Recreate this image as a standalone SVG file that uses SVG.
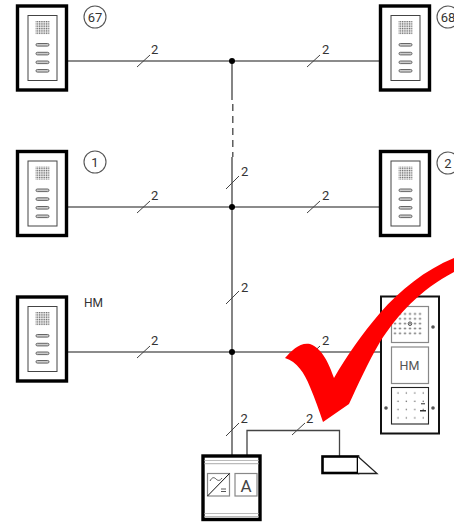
<svg xmlns="http://www.w3.org/2000/svg" xmlns:xlink="http://www.w3.org/1999/xlink" width="454" height="522" viewBox="0 0 454 522">
<style>
text{font-family:Roboto,"Liberation Sans",sans-serif;fill:#333}
.w{stroke:#666;stroke-width:1.6;fill:none}
.v{stroke:#444;stroke-width:1.3;fill:none}
.t{stroke:#444;stroke-width:1;fill:none}
.n{font-size:13px}
.c{font-size:13px;text-anchor:middle}
.ring{fill:#fff;stroke:#555;stroke-width:1.1}
.frame{fill:#fff;stroke:#000;stroke-width:3.4}
.in{fill:#fff;stroke:#444;stroke-width:1}
.btn{fill:#ccc;stroke:#666;stroke-width:1}
.mod{fill:#fff;stroke:#888;stroke-width:1.2}
.dotk{fill:#555}
</style>
<defs>
<pattern id="gr" x="35.500" y="21" width="1.750" height="1.750" patternUnits="userSpaceOnUse"><rect width="1.100" height="1.100" fill="#666"/></pattern>
<g id="st">
<rect class="frame" x="17.500" y="6" width="49" height="84"/>
<rect class="in" x="28" y="15.500" width="29" height="65"/>
<rect x="35.500" y="21" width="14" height="13.200" fill="url(#gr)"/>
<rect class="btn" x="36" y="43.500" width="13" height="2.600" rx="1.300"/>
<rect class="btn" x="36" y="52.300" width="13" height="2.600" rx="1.300"/>
<rect class="btn" x="36" y="61" width="13" height="2.600" rx="1.300"/>
<rect class="btn" x="36" y="69.500" width="13" height="2.600" rx="1.300"/>
</g>
<pattern id="sp" x="392.500" y="311.500" width="5" height="4.850" patternUnits="userSpaceOnUse"><circle cx="2.500" cy="2.500" r="0.950" fill="#555"/></pattern>
<pattern id="kp" x="394" y="389" width="8.400" height="8.300" patternUnits="userSpaceOnUse"><circle cx="4" cy="4" r="0.750" fill="#666"/></pattern>
</defs>
<g id="connectors">
<path class="w" d="M67 61H379M67 207H379M67 352H380"/>
<path class="v" d="M232 61V100M232 157V456M247 456V430.500H339.500V456"/>
<path class="v" stroke-dasharray="7 5" d="M232.800 104V157"/>
<circle cx="232" cy="61" r="3"/><circle cx="232" cy="207" r="3"/><circle cx="232" cy="352" r="3"/>
<path class="t" d="M137 67L150 55M307 67L320 55M226 189L239 176M137 213L150 201M307 213L320 201M226 304L239 291M137 358L150 346M307 358L320 346M226 436L239 423M292 435L305 423"/>
<text class="n" x="151" y="53.500">2</text><text class="n" x="322" y="53.500">2</text>
<text class="n" x="241" y="175.500">2</text><text class="n" x="151" y="199.500">2</text><text class="n" x="322" y="199.500">2</text>
<text class="n" x="241" y="291.500">2</text><text class="n" x="151" y="345">2</text><text class="n" x="322" y="345">2</text>
<text class="n" x="240.500" y="423">2</text><text class="n" x="306" y="423">2</text>
</g>
<g id="station-67"><use xlink:href="#st" href="#st"/><circle class="ring" cx="95" cy="17" r="11"/><text class="c" x="95" y="21.500">67</text></g>
<g id="station-68"><use xlink:href="#st" href="#st" x="363"/><circle class="ring" cx="448" cy="17" r="11"/><text class="c" x="448" y="21.500">68</text></g>
<g id="station-1"><use xlink:href="#st" href="#st" y="145.500"/><circle class="ring" cx="95" cy="162" r="11"/><text class="c" x="95" y="166.500">1</text></g>
<g id="station-2"><use xlink:href="#st" href="#st" x="363" y="145.500"/><circle class="ring" cx="448" cy="163" r="11"/><text class="c" x="448" y="167.500">2</text></g>
<g id="station-hm"><use xlink:href="#st" href="#st" y="291"/><text x="84" y="307" style="font-size:12px">HM</text></g>
<g id="door-panel">
<rect x="381" y="296.500" width="58" height="137" fill="#fff" stroke="#111" stroke-width="2"/>
<rect class="mod" x="391.500" y="306.500" width="37" height="36"/>
<rect x="393" y="312" width="30" height="24" fill="url(#sp)"/>
<circle cx="410" cy="323.700" r="1.800" fill="none" stroke="#555"/>
<rect class="mod" x="391.500" y="347" width="37" height="36.500"/>
<text x="409.500" y="369.500" style="font-size:12.500px;text-anchor:middle;fill:#555">HM</text>
<rect x="391.500" y="387.500" width="37" height="36.500" fill="#fff" stroke="#222" stroke-width="1.100"/>
<rect x="394" y="390" width="32" height="32" fill="url(#kp)"/>
<rect x="421" y="403" width="4" height="1.400" fill="#666"/>
<rect x="420" y="410" width="6" height="1.500" fill="#333"/>
<circle class="dotk" cx="433" cy="327" r="1.800"/><circle class="dotk" cx="386" cy="408" r="1.800"/><circle class="dotk" cx="433" cy="408" r="1.800"/>
</g>
<g id="power-supply">
<rect class="frame" x="203" y="456" width="57" height="63.500" stroke-width="3"/>
<path stroke="#bbb" stroke-width="1.200" d="M204.500 460.500H258.500M204.500 463.700H258.500M204.500 513.500H258.500M204.500 516.700H258.500"/>
<rect class="mod" x="207.500" y="473.500" width="22" height="22.500"/>
<path d="M207.500 496L229.500 473.500" stroke="#111" stroke-width="1"/>
<path d="M210 481c2-4 4-4 6-2s4 2 6-1M221 489h5M221 491.500h5" fill="none" stroke="#444" stroke-width="0.900"/>
<rect class="mod" x="235" y="473.500" width="22" height="22.500"/>
<text x="246" y="491.500" style="font-size:17px;text-anchor:middle;fill:#444">A</text>
</g>
<g id="door-opener">
<rect x="322.500" y="456.500" width="35.500" height="16.500" fill="#fff" stroke="#000" stroke-width="2.600"/>
<path d="M358 456.500L377 473.500H358" fill="#fff" stroke="#222" stroke-width="1.300"/>
</g>
<path id="check" fill="#f00" d="M454 258C425 270 400 290 380 313C362 334 346 357 334 378C329 364 323 349 310 344C300 342 292 350 285 358C297 362 304 372 310 387C315 399 319 410 323 422L349 404C358 385 368 362 380 342C398 314 420 290 454 272Z"/>
</svg>
